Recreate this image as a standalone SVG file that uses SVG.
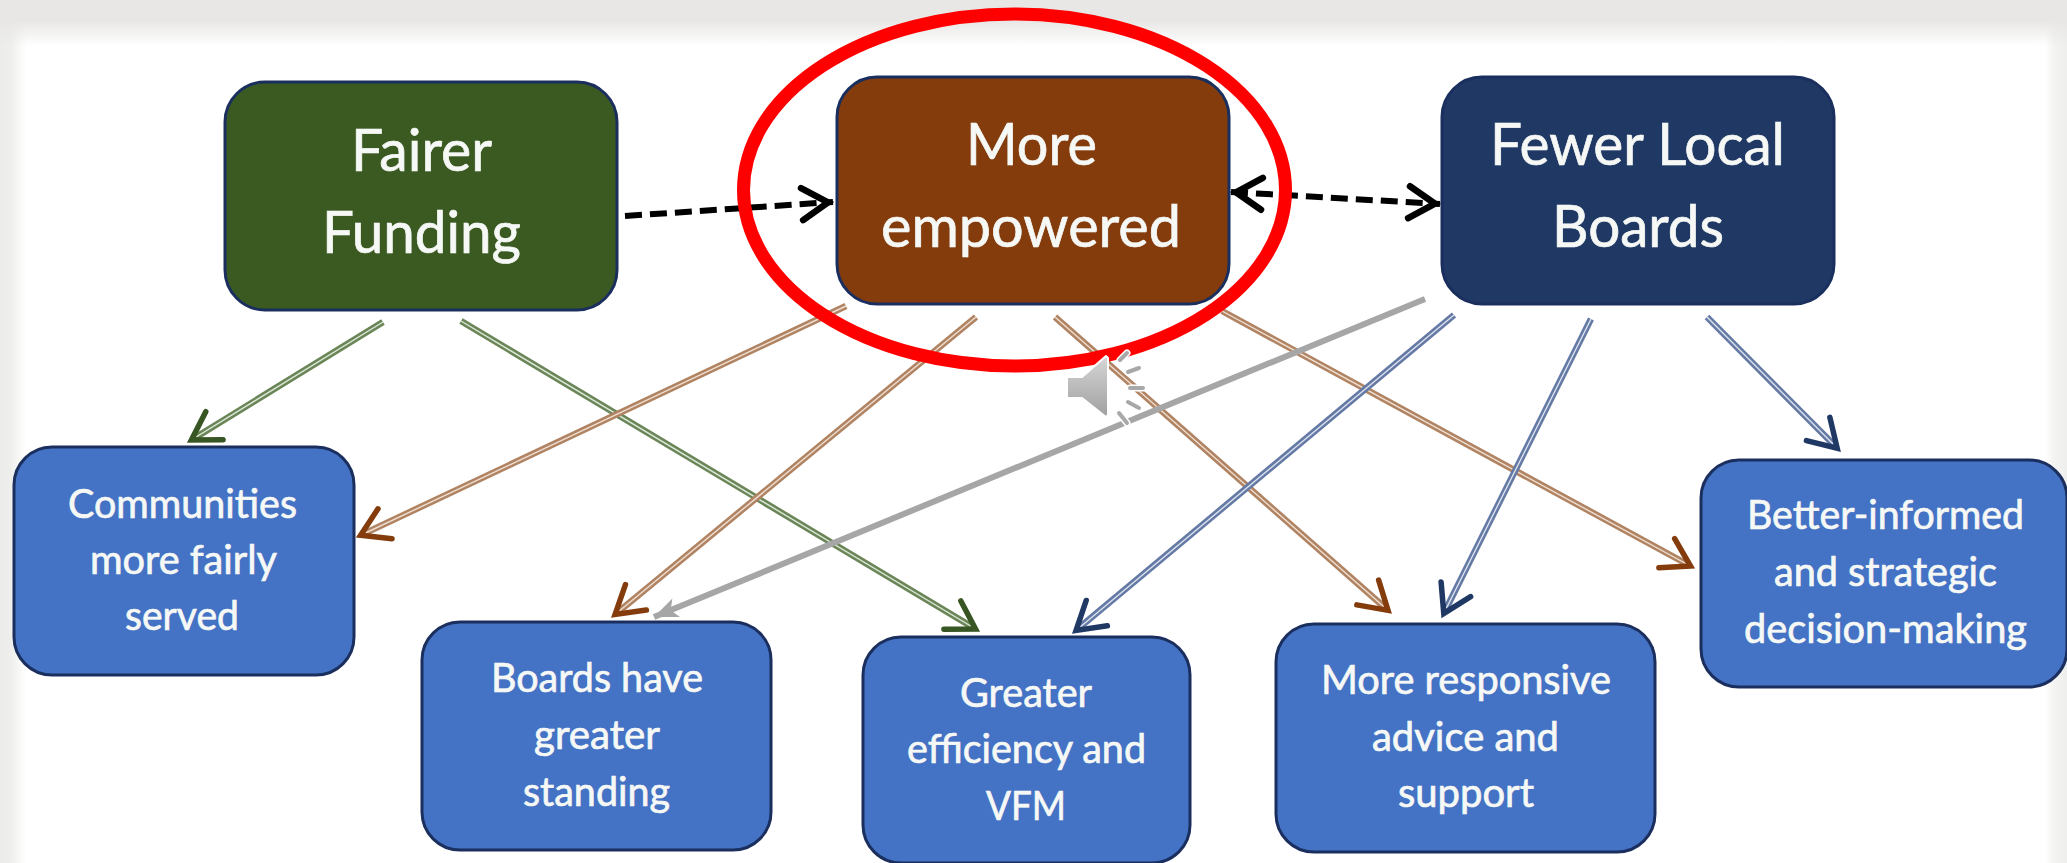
<svg xmlns="http://www.w3.org/2000/svg" width="2067" height="863" viewBox="0 0 2067 863">
<style>
.node{stroke:#1b2f5e;stroke-width:3}
.gr{fill:#3b5a22}.br{fill:#843c0c}.nv{fill:#1f3864}.bl{fill:#4472c4}
text{font-family:Lato,"Liberation Sans",sans-serif;fill:#f6f8f6;stroke:#f6f8f6;stroke-width:.7}
.big{font-size:58px}.small{font-size:40px}
line{fill:none}
.o{stroke-width:6.5}.i{stroke-width:1.4}
.go{stroke:#6a8658}.gi{stroke:#dfe8d8;marker-end:url(#mg)}
.bo{stroke:#b08463}.bi{stroke:#f0dfd2;marker-end:url(#mb)}
.no{stroke:#647aa5}.ni{stroke:#dde3ef;marker-end:url(#mn)}
.dash{stroke:#000;stroke-width:6;stroke-dasharray:17 8}
.tick{stroke:#fff;stroke-width:7;stroke-linecap:round}
.tk{stroke:#a8a8a8;stroke-width:4;stroke-linecap:round}
</style>
<defs>
<linearGradient id="top" x1="0" y1="0" x2="0" y2="1"><stop offset="0" stop-color="#e8e7e5"/><stop offset=".45" stop-color="#e8e7e5"/><stop offset="1" stop-color="#e8e7e5" stop-opacity="0"/></linearGradient>
<linearGradient id="left" x1="0" y1="0" x2="1" y2="0"><stop offset="0" stop-color="#ececea"/><stop offset=".4" stop-color="#eeeeec"/><stop offset="1" stop-color="#fff"/></linearGradient>
<linearGradient id="right" x1="0" y1="0" x2="1" y2="0"><stop offset="0" stop-color="#fff"/><stop offset=".4" stop-color="#f3f3f1"/><stop offset="1" stop-color="#efefed"/></linearGradient>
<linearGradient id="spk" x1="0" y1="0" x2="0" y2="1"><stop offset="0" stop-color="#d6d6d6"/><stop offset="1" stop-color="#a0a0a0"/></linearGradient>
<marker id="mg" markerUnits="userSpaceOnUse" markerWidth="70" markerHeight="70" viewBox="-40 -35 70 70" refX="0" refY="0" orient="auto"><path d="M-31-16.5L-4 0L-31 16.5" fill="none" stroke="#375623" stroke-width="5.5" stroke-linecap="round"/></marker>
<marker id="mb" markerUnits="userSpaceOnUse" markerWidth="70" markerHeight="70" viewBox="-40 -35 70 70" refX="0" refY="0" orient="auto"><path d="M-31-16.5L-4 0L-31 16.5" fill="none" stroke="#843c0c" stroke-width="5.5" stroke-linecap="round"/></marker>
<marker id="mn" markerUnits="userSpaceOnUse" markerWidth="70" markerHeight="70" viewBox="-40 -35 70 70" refX="0" refY="0" orient="auto"><path d="M-31-16.5L-4 0L-31 16.5" fill="none" stroke="#1f3864" stroke-width="5.5" stroke-linecap="round"/></marker>
<marker id="mk" markerUnits="userSpaceOnUse" markerWidth="70" markerHeight="70" viewBox="-40 -35 70 70" refX="0" refY="0" orient="auto-start-reverse"><path d="M-31-16L-5 0L-31 16" fill="none" stroke="#000" stroke-width="6.5" stroke-linecap="round"/></marker>
<marker id="ma" markerUnits="userSpaceOnUse" markerWidth="40" markerHeight="40" viewBox="-30 -20 40 40" refX="0" refY="0" orient="auto"><path d="M0 0L-24-10L-18 0L-24 10Z" fill="#a6a6a6"/></marker>
</defs>
<g id="background">
<rect width="2067" height="863" fill="#fff"/>
<rect width="26" height="863" fill="url(#left)"/>
<rect x="2045" width="22" height="863" fill="url(#right)"/>
<rect width="2067" height="46" fill="url(#top)"/>
</g>
<g id="connectors">
<line class="dash" x1="625" y1="216" x2="833" y2="202" marker-end="url(#mk)"/>
<line class="dash" x1="1231" y1="192" x2="1440" y2="204" marker-start="url(#mk)" marker-end="url(#mk)"/>
<line class="o go" x1="383" y1="322" x2="193" y2="439"/><line class="i gi" x1="383" y1="322" x2="188" y2="442"/>
<line class="o go" x1="461" y1="321" x2="974" y2="628"/><line class="i gi" x1="461" y1="321" x2="979" y2="631"/>
<line class="o bo" x1="846" y1="306" x2="362.5" y2="534.4"/><line class="i bi" x1="846" y1="306" x2="357" y2="537"/>
<line class="o bo" x1="976" y1="317" x2="616.6" y2="613.2"/><line class="i bi" x1="976" y1="317" x2="612" y2="617"/>
<line class="o bo" x1="1055" y1="317" x2="1386.5" y2="609"/><line class="i bi" x1="1055" y1="317" x2="1391" y2="613"/>
<line class="o bo" x1="1222" y1="311" x2="1688.7" y2="565"/><line class="i bi" x1="1222" y1="311" x2="1694" y2="568"/>
<line x1="1425" y1="299" x2="654" y2="617" stroke="#a6a6a6" stroke-width="6" marker-end="url(#ma)"/>
<line class="o no" x1="1454" y1="315" x2="1077.6" y2="629"/><line class="i ni" x1="1454" y1="315" x2="1073" y2="633"/>
<line class="o no" x1="1591" y1="319" x2="1444.7" y2="611.6"/><line class="i ni" x1="1591" y1="319" x2="1442" y2="617"/>
<line class="o no" x1="1707" y1="317" x2="1835.8" y2="446.8"/><line class="i ni" x1="1707" y1="317" x2="1840" y2="451"/>
</g>
<g id="fairer-funding">
<rect class="node gr" x="225" y="82" width="392" height="228" rx="40"/>
<text class="big" x="351" y="171" textLength="141" lengthAdjust="spacingAndGlyphs">Fairer</text>
<text class="big" x="322" y="253" textLength="199" lengthAdjust="spacingAndGlyphs">Funding</text>
</g>
<g id="more-empowered">
<rect class="node br" x="837" y="77" width="392" height="227" rx="40"/>
<text class="big" x="966" y="165" textLength="131" lengthAdjust="spacingAndGlyphs">More</text>
<text class="big" x="881" y="247" textLength="300" lengthAdjust="spacingAndGlyphs">empowered</text>
</g>
<g id="fewer-local-boards">
<rect class="node nv" x="1442" y="77" width="392" height="227" rx="40"/>
<text class="big" x="1490" y="165" textLength="295" lengthAdjust="spacingAndGlyphs">Fewer Local</text>
<text class="big" x="1552" y="247" textLength="172" lengthAdjust="spacingAndGlyphs">Boards</text>
</g>
<g id="communities">
<rect class="node bl" x="14" y="447" width="340" height="228" rx="38"/>
<text class="small" x="68" y="518" textLength="229" lengthAdjust="spacingAndGlyphs">Communities</text>
<text class="small" x="90" y="574" textLength="187" lengthAdjust="spacingAndGlyphs">more fairly</text>
<text class="small" x="125" y="630" textLength="114" lengthAdjust="spacingAndGlyphs">served</text>
</g>
<g id="boards-standing">
<rect class="node bl" x="422" y="622" width="349" height="228" rx="38"/>
<text class="small" x="491" y="692" textLength="212" lengthAdjust="spacingAndGlyphs">Boards have</text>
<text class="small" x="534" y="749" textLength="126" lengthAdjust="spacingAndGlyphs">greater</text>
<text class="small" x="523" y="806" textLength="147" lengthAdjust="spacingAndGlyphs">standing</text>
</g>
<g id="efficiency">
<rect class="node bl" x="863" y="637" width="327" height="226" rx="38"/>
<text class="small" x="960" y="707" textLength="132" lengthAdjust="spacingAndGlyphs">Greater</text>
<text class="small" x="907" y="763" textLength="239" lengthAdjust="spacingAndGlyphs">efficiency and</text>
<text class="small" x="986" y="820" textLength="80" lengthAdjust="spacingAndGlyphs">VFM</text>
</g>
<g id="responsive">
<rect class="node bl" x="1276" y="624" width="379" height="228" rx="38"/>
<text class="small" x="1321" y="694" textLength="290" lengthAdjust="spacingAndGlyphs">More responsive</text>
<text class="small" x="1372" y="751" textLength="187" lengthAdjust="spacingAndGlyphs">advice and</text>
<text class="small" x="1398" y="807" textLength="136" lengthAdjust="spacingAndGlyphs">support</text>
</g>
<g id="better-informed">
<rect class="node bl" x="1701" y="460" width="366" height="227" rx="38"/>
<text class="small" x="1747" y="529" textLength="277" lengthAdjust="spacingAndGlyphs">Better-informed</text>
<text class="small" x="1774" y="586" textLength="223" lengthAdjust="spacingAndGlyphs">and strategic</text>
<text class="small" x="1744" y="643" textLength="283" lengthAdjust="spacingAndGlyphs">decision-making</text>
</g>
<ellipse id="highlight" cx="1014.5" cy="190" rx="271" ry="176" fill="none" stroke="#ff0000" stroke-width="13"/>
<g id="speaker">
<path d="M1067 377H1082L1106 356L1108 358V415L1106 417L1082 398H1067Z" fill="url(#spk)" stroke="#fff" stroke-width="2" stroke-linejoin="round"/>
<line class="tick" x1="1120" y1="360" x2="1127" y2="353"/><line class="tk" x1="1120" y1="360" x2="1127" y2="353"/>
<line class="tick" x1="1128" y1="372" x2="1139" y2="368"/><line class="tk" x1="1128" y1="372" x2="1139" y2="368"/>
<line class="tick" x1="1130" y1="388" x2="1143" y2="388"/><line class="tk" x1="1130" y1="388" x2="1143" y2="388"/>
<line class="tick" x1="1128" y1="402" x2="1139" y2="408"/><line class="tk" x1="1128" y1="402" x2="1139" y2="408"/>
<line class="tick" x1="1119" y1="413" x2="1127" y2="423"/><line class="tk" x1="1119" y1="413" x2="1127" y2="423"/>
</g>
</svg>
